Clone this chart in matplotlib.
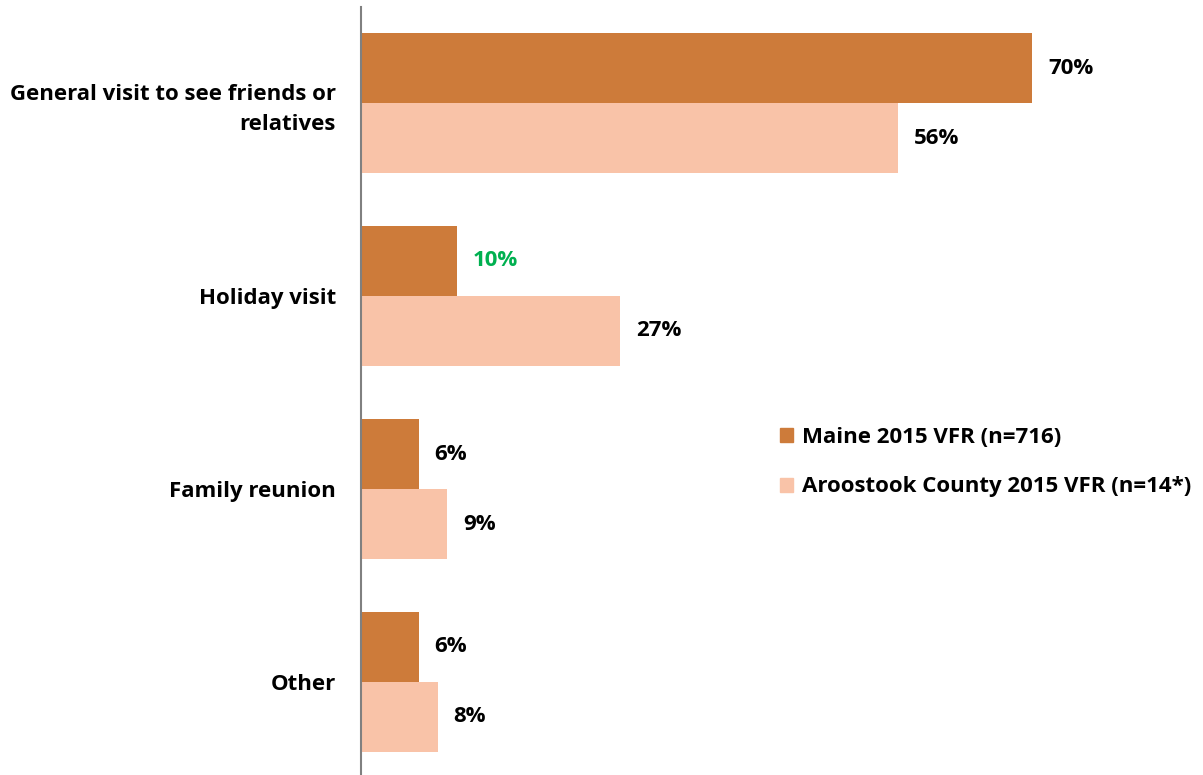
import matplotlib
matplotlib.use("Agg")
import matplotlib.pyplot as plt
from matplotlib.patches import Rectangle

categories = ["General visit to see friends or\nrelatives", "Holiday visit", "Family reunion", "Other"]
maine = [70, 10, 6, 6]
aroostook = [56, 27, 9, 8]
series_names = ["Maine 2015 VFR (n=716)", "Aroostook County 2015 VFR (n=14*)"]
maine_label_colors = ["black", "#00B050", "black", "black"]

c_maine = "#CD7B3A"
c_aroo = "#F9C3A8"

plt.rcParams['font.family'] = ['Open Sans', 'DejaVu Sans']
FS = 16
W, H = 1203, 775
fig = plt.figure(figsize=(W/100, H/100), dpi=100)
ax = fig.add_axes([361/W, 0, (W-361)/W, 1])

px_per_pct = 9.586
ax.set_xlim(0, (W-361)/px_per_pct)
unit = 193.0
top = -103/unit
bottom = (H-103)/unit
ax.set_ylim(bottom, top)
bh = 70/unit

ys = list(range(len(categories)))
ax.barh([y - bh/2 for y in ys], maine, height=bh, color=c_maine, edgecolor='none')
ax.barh([y + bh/2 for y in ys], aroostook, height=bh, color=c_aroo, edgecolor='none')

off = 16/px_per_pct
for i, y in enumerate(ys):
    ax.text(maine[i] + off, y - bh/2, f"{maine[i]}%", va='center', ha='left',
            fontsize=FS, fontweight='bold', color=maine_label_colors[i])
    ax.text(aroostook[i] + off, y + bh/2, f"{aroostook[i]}%", va='center', ha='left',
            fontsize=FS, fontweight='bold', color='black')

for s in ['top', 'right', 'bottom']:
    ax.spines[s].set_visible(False)
ax.spines['left'].set_color('#808080')
ax.spines['left'].set_linewidth(1.5)
ax.spines['left'].set_bounds(bottom, -96/unit)
ax.set_xticks([])
ax.set_yticks(ys)
ax.set_yticklabels(categories, fontsize=FS, fontweight='bold', ha='right',
                   multialignment='right', linespacing=1.5)
ax.tick_params(axis='y', length=0, pad=18)

# legend
leg = ax.legend([Rectangle((0, 0), 1, 1, color=c_maine), Rectangle((0, 0), 1, 1, color=c_aroo)],
                series_names, loc='center left', bbox_to_anchor=(419/(W-361), 1-462/H),
                frameon=False, prop={'size': FS, 'weight': 'bold'},
                handlelength=0.6, handleheight=0.6, handletextpad=0.4, labelspacing=1.3,
                borderaxespad=0, borderpad=0)

fig.savefig("out.png", dpi=100)
